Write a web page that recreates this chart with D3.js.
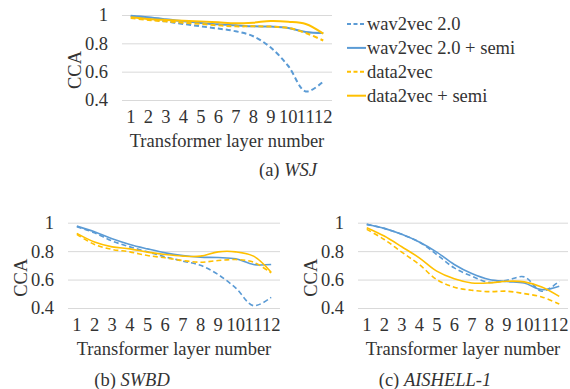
<!DOCTYPE html>
<html>
<head>
<meta charset="utf-8">
<script src="https://cdn.jsdelivr.net/npm/d3@7"></script>
<style>
  body { margin: 0; background: #fff; }
  svg { display: block; font-family: "Liberation Serif", "Times New Roman", serif; }
</style>
</head>
<body>
<div id="chart"></div>
<script>
// x categories and y ticks shared by the three panels
const layers = ["1", "2", "3", "4", "5", "6", "7", "8", "9", "10", "11", "12"];
const yTicks = [0.4, 0.6, 0.8, 1];
const seriesNames = ["wav2vec 2.0", "wav2vec 2.0 + semi", "data2vec", "data2vec + semi"];

// (a) WSJ
const wsjW2v     = [0.993, 0.972, 0.955, 0.937, 0.92, 0.904, 0.885, 0.85, 0.77, 0.64, 0.46, 0.53];
const wsjW2vSemi = [0.995, 0.984, 0.97, 0.955, 0.944, 0.934, 0.927, 0.92, 0.918, 0.909, 0.88, 0.873];
const wsjD2v     = [0.979, 0.965, 0.955, 0.946, 0.937, 0.927, 0.92, 0.92, 0.918, 0.909, 0.873, 0.82];
const wsjD2vSemi = [0.984, 0.972, 0.965, 0.96, 0.955, 0.948, 0.941, 0.946, 0.958, 0.953, 0.937, 0.869];

// (b) SWBD
const swbdW2v     = [0.972, 0.929, 0.871, 0.83, 0.795, 0.76, 0.73, 0.70, 0.635, 0.54, 0.416, 0.475];
const swbdW2vSemi = [0.976, 0.936, 0.887, 0.847, 0.816, 0.788, 0.769, 0.758, 0.755, 0.746, 0.706, 0.706];
const swbdD2v     = [0.918, 0.847, 0.812, 0.795, 0.769, 0.753, 0.734, 0.722, 0.734, 0.741, 0.722, 0.647];
const swbdD2vSemi = [0.925, 0.864, 0.83, 0.816, 0.793, 0.776, 0.765, 0.765, 0.795, 0.795, 0.765, 0.652];

// (c) AISHELL-1
const aishW2v     = [0.988, 0.96, 0.918, 0.864, 0.776, 0.682, 0.624, 0.58, 0.595, 0.619, 0.518, 0.588];
const aishW2vSemi = [0.988, 0.96, 0.918, 0.864, 0.793, 0.706, 0.642, 0.60, 0.586, 0.576, 0.529, 0.553];
const aishD2v     = [0.953, 0.882, 0.793, 0.706, 0.60, 0.546, 0.525, 0.515, 0.518, 0.501, 0.478, 0.428];
const aishD2vSemi = [0.965, 0.906, 0.831, 0.753, 0.659, 0.605, 0.576, 0.576, 0.588, 0.584, 0.548, 0.482];

const blue = "#5b9bd5";
const gold = "#ffc000";
const styles = [
  { color: blue, dash: "5,3" },
  { color: blue, dash: null },
  { color: gold, dash: "5,3" },
  { color: gold, dash: null }
];

const fontSize = 18.5;
const textColor = "#333";

const svg = d3.select("#chart").append("svg")
  .attr("width", 570)
  .attr("height", 389);

function drawPanel(p) {
  const x = d3.scaleBand().domain(layers).range([p.left, p.right]);
  const y = d3.scaleLinear().domain([0.4, 1]).range([p.bottom, p.top]);
  const g = svg.append("g");

  // gridlines
  g.append("g")
    .attr("transform", "translate(" + p.left + ",0)")
    .call(d3.axisLeft(y).tickValues(yTicks).tickSize(-(p.right - p.left)).tickFormat(""))
    .call(a => a.select(".domain").remove())
    .call(a => a.selectAll("line").attr("stroke", "#d9d9d9").attr("stroke-width", 1));

  // y tick labels
  g.append("g")
    .attr("transform", "translate(" + p.left + ",0)")
    .call(d3.axisLeft(y).tickValues(yTicks).tickSize(0).tickPadding(14)
      .tickFormat(d => d === 1 ? "1" : d.toFixed(1)))
    .call(a => a.select(".domain").remove())
    .call(a => a.selectAll("text").attr("font-size", fontSize).attr("fill", textColor)
      .attr("font-family", "Liberation Serif"));

  // x tick labels
  g.append("g")
    .attr("transform", "translate(0," + p.bottom + ")")
    .call(d3.axisBottom(x).tickSize(0).tickPadding(10))
    .call(a => a.select(".domain").remove())
    .call(a => a.selectAll("text").attr("font-size", fontSize).attr("fill", textColor)
      .attr("font-family", "Liberation Serif"));

  // lines
  const line = d3.line()
    .x((d, i) => x(layers[i]) + x.bandwidth() / 2)
    .y(d => y(d))
    .curve(d3.curveCatmullRom.alpha(0.5));

  p.series.forEach((s, i) => {
    g.append("path")
      .datum(s)
      .attr("fill", "none")
      .attr("stroke", styles[i].color)
      .attr("stroke-width", p.lw)
      .attr("stroke-dasharray", styles[i].dash)
      .attr("d", line);
  });

  // axis titles
  g.append("text")
    .attr("x", (p.left + p.right) / 2)
    .attr("y", p.bottom + 47)
    .attr("text-anchor", "middle")
    .attr("font-size", fontSize)
    .attr("fill", textColor)
    .text("Transformer layer number");

  g.append("text")
    .attr("transform", "translate(" + (p.left - 47) + "," + (p.top + 55) + ") rotate(-90)")
    .attr("text-anchor", "middle")
    .attr("dominant-baseline", "central")
    .attr("font-size", fontSize)
    .attr("fill", textColor)
    .text("CCA");

  // caption like "(a) WSJ"
  const cap = g.append("text")
    .attr("x", p.capX)
    .attr("y", p.capY)
    .attr("text-anchor", "middle")
    .attr("font-size", fontSize)
    .attr("fill", textColor);
  cap.append("tspan").text(p.capLabel + " ");
  cap.append("tspan").attr("font-style", "italic").text(p.capName);
}

drawPanel({ left: 122, right: 332, top: 15, bottom: 100, lw: 2,
  series: [wsjW2v, wsjW2vSemi, wsjD2v, wsjD2vSemi],
  capLabel: "(a)", capName: "WSJ", capX: 288, capY: 176 });

drawPanel({ left: 68, right: 280, top: 222.7, bottom: 308, lw: 1.6,
  series: [swbdW2v, swbdW2vSemi, swbdD2v, swbdD2vSemi],
  capLabel: "(b)", capName: "SWBD", capX: 132, capY: 386 });

drawPanel({ left: 358, right: 568, top: 222.7, bottom: 308, lw: 1.6,
  series: [aishW2v, aishW2vSemi, aishD2v, aishD2vSemi],
  capLabel: "(c)", capName: "AISHELL-1", capX: 435, capY: 386 });

// legend for panel (a)
const legend = svg.append("g");
seriesNames.forEach((name, i) => {
  const ly = 24 + i * 23.9;
  legend.append("line")
    .attr("x1", 347).attr("x2", 366)
    .attr("y1", ly).attr("y2", ly)
    .attr("stroke", styles[i].color)
    .attr("stroke-width", 2)
    .attr("stroke-dasharray", styles[i].dash ? "4,2.5" : null);
  legend.append("text")
    .attr("x", 367)
    .attr("y", ly)
    .attr("dy", "0.33em")
    .attr("font-size", fontSize)
    .attr("fill", textColor)
    .text(name);
});
</script>
</body>
</html>
